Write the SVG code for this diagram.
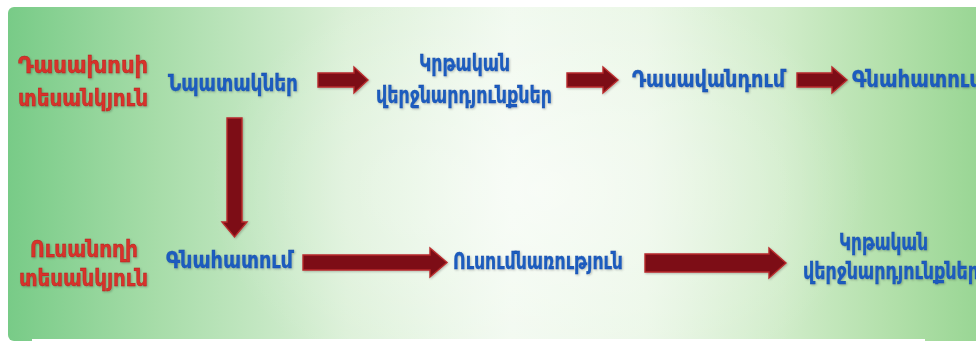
<svg xmlns="http://www.w3.org/2000/svg" width="976" height="343" viewBox="0 0 976 343">
<defs>
<linearGradient id="bg" x1="8" y1="0" x2="976" y2="0" gradientUnits="userSpaceOnUse">
<stop offset="0" stop-color="#78cb87"/>
<stop offset="0.15" stop-color="#a6dca8"/>
<stop offset="0.35" stop-color="#dbf0d7"/>
<stop offset="0.52" stop-color="#f0f9ee"/>
<stop offset="0.66" stop-color="#e9f6e5"/>
<stop offset="0.8" stop-color="#d0ecc9"/>
<stop offset="0.92" stop-color="#b0dfa8"/>
<stop offset="1" stop-color="#9ad695"/>
</linearGradient>
<radialGradient id="glow" cx="540" cy="190" r="330" gradientUnits="userSpaceOnUse" gradientTransform="translate(540 190) scale(1 0.7) translate(-540 -190)">
<stop offset="0" stop-color="#ffffff" stop-opacity="0.55"/>
<stop offset="1" stop-color="#ffffff" stop-opacity="0"/>
</radialGradient>
<filter id="soft" x="-5%" y="-20%" width="110%" height="140%">
<feGaussianBlur in="SourceAlpha" stdDeviation="0.8" result="b"/>
<feOffset dx="0.6" dy="0.8" result="o"/>
<feFlood flood-color="#000" flood-opacity="0.25"/>
<feComposite in2="o" operator="in" result="s"/>
<feMerge><feMergeNode in="s"/><feMergeNode in="SourceGraphic"/></feMerge>
</filter>
</defs>
<style>
.t{font-family:"DejaVu Sans","Noto Sans",sans-serif;font-weight:bold;font-size:23px}
.red{fill:#d8322a;stroke:#b02020;stroke-width:0.4}
.blue{fill:#1c5cbf;stroke:#1a4fa8;stroke-width:0.3}
.arr{fill:#7d1014;stroke:#b82a2c;stroke-width:1.4;stroke-linejoin:miter}
</style>
<rect x="0" y="0" width="976" height="343" fill="#ffffff"/>
<rect x="8" y="7" width="980" height="334" rx="6" fill="url(#bg)"/>
<rect x="8" y="7" width="980" height="334" rx="6" fill="url(#glow)"/>
<rect x="32" y="339" width="893" height="6" fill="#ffffff"/>

<g id="teacher-view" filter="url(#soft)">
<text class="t red" x="18" y="73" textLength="130" lengthAdjust="spacingAndGlyphs">Դասախոսի</text>
<text class="t red" x="18" y="106" textLength="130" lengthAdjust="spacingAndGlyphs">տեսանկյուն</text>
</g>
<g id="goals" filter="url(#soft)">
<text class="t blue" x="168" y="91" textLength="130" lengthAdjust="spacingAndGlyphs">Նպատակներ</text>
</g>
<g id="outcomes-top" filter="url(#soft)">
<text class="t blue" x="419" y="71" textLength="91" lengthAdjust="spacingAndGlyphs">Կրթական</text>
<text class="t blue" x="376" y="103" textLength="176" lengthAdjust="spacingAndGlyphs">վերջնարդյունքներ</text>
</g>
<g id="teaching" filter="url(#soft)">
<text class="t blue" x="632" y="87" textLength="153" lengthAdjust="spacingAndGlyphs">Դասավանդում</text>
</g>
<g id="assessment-top" filter="url(#soft)">
<text class="t blue" x="852" y="87" textLength="130" lengthAdjust="spacingAndGlyphs">Գնահատում</text>
</g>
<g id="student-view" filter="url(#soft)">
<text class="t red" x="30" y="257" textLength="108" lengthAdjust="spacingAndGlyphs">Ուսանողի</text>
<text class="t red" x="19" y="286" textLength="129" lengthAdjust="spacingAndGlyphs">տեսանկյուն</text>
</g>
<g id="assessment-bottom" filter="url(#soft)">
<text class="t blue" x="166" y="268" textLength="127" lengthAdjust="spacingAndGlyphs">Գնահատում</text>
</g>
<g id="learning" filter="url(#soft)">
<text class="t blue" x="453" y="269" textLength="170" lengthAdjust="spacingAndGlyphs">Ուսումնառություն</text>
</g>
<g id="outcomes-bottom" filter="url(#soft)">
<text class="t blue" x="839" y="250" textLength="89" lengthAdjust="spacingAndGlyphs">Կրթական</text>
<text class="t blue" x="803" y="279" textLength="176" lengthAdjust="spacingAndGlyphs">վերջնարդյունքներ</text>
</g>

<g id="connectors" filter="url(#soft)">
<polygon class="arr" points="318,73 354,73 354,67 368,80 354,93 354,87 318,87"/>
<polygon class="arr" points="567,73 603,73 603,67 618,80 603,93 603,87 567,87"/>
<polygon class="arr" points="797,73 832,73 832,67 847,80 832,93 832,87 797,87"/>
<polygon class="arr" points="227,118 242,118 242,222 247,222 234.5,237 222,222 227,222"/>
<polygon class="arr" points="303,255 430,255 430,248 447,262.5 430,277 430,270 303,270"/>
<polygon class="arr" points="645,254 769,254 769,248 786,263 769,278 769,272 645,272"/>
</g>
</svg>
